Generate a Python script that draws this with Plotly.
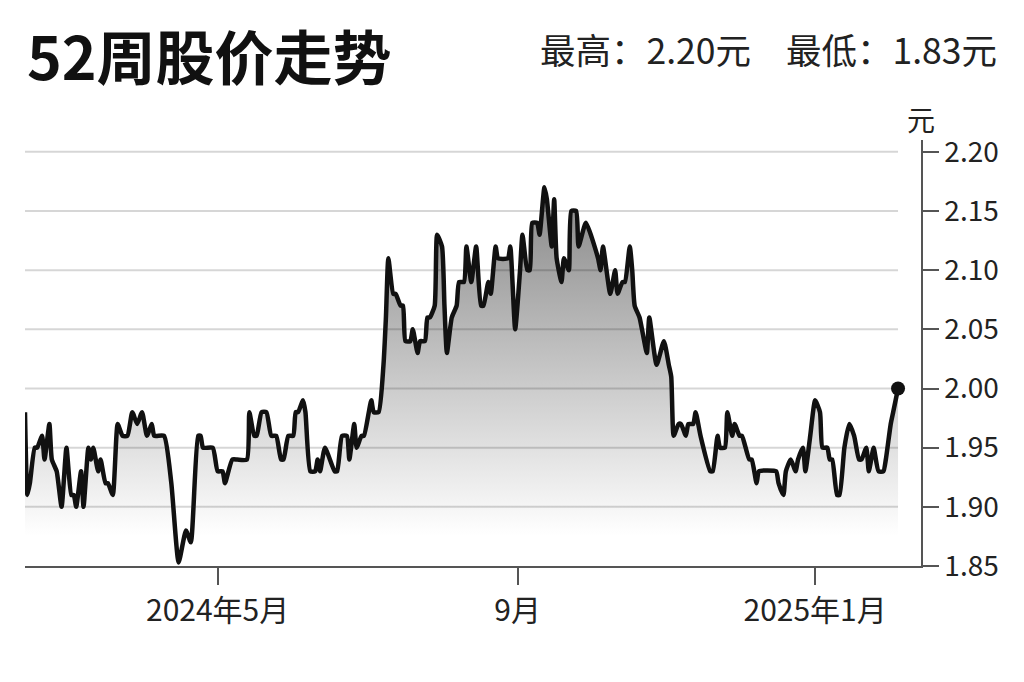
import plotly.graph_objects as go

dates = [
    "2024-02-12", "2024-02-13", "2024-02-14", "2024-02-16", "2024-02-17", "2024-02-19",
    "2024-02-20", "2024-02-22", "2024-02-23", "2024-02-25", "2024-02-27", "2024-02-29",
    "2024-03-02", "2024-03-03", "2024-03-04", "2024-03-06", "2024-03-07", "2024-03-09",
    "2024-03-10", "2024-03-11", "2024-03-13", "2024-03-14", "2024-03-16", "2024-03-17",
    "2024-03-19", "2024-03-21", "2024-03-23", "2024-03-25", "2024-03-27", "2024-03-29",
    "2024-03-31", "2024-04-02", "2024-04-04", "2024-04-05", "2024-04-09", "2024-04-12",
    "2024-04-15", "2024-04-18", "2024-04-20", "2024-04-23", "2024-04-24", "2024-04-25",
    "2024-04-29", "2024-05-01", "2024-05-03", "2024-05-04", "2024-05-07", "2024-05-09",
    "2024-05-13", "2024-05-14", "2024-05-16", "2024-05-17", "2024-05-19", "2024-05-21",
    "2024-05-23", "2024-05-25", "2024-05-27", "2024-05-28", "2024-05-30", "2024-06-01",
    "2024-06-02", "2024-06-03", "2024-06-05", "2024-06-06", "2024-06-08", "2024-06-10",
    "2024-06-11", "2024-06-12", "2024-06-14", "2024-06-18", "2024-06-19", "2024-06-21",
    "2024-06-23", "2024-06-24", "2024-06-26", "2024-06-27", "2024-06-29", "2024-06-30",
    "2024-07-03", "2024-07-04", "2024-07-06", "2024-07-08", "2024-07-09", "2024-07-10",
    "2024-07-12", "2024-07-13", "2024-07-15", "2024-07-16", "2024-07-17", "2024-07-19",
    "2024-07-20", "2024-07-22", "2024-07-23", "2024-07-25", "2024-07-26", "2024-07-27",
    "2024-07-29", "2024-07-30", "2024-08-01", "2024-08-02", "2024-08-03", "2024-08-05",
    "2024-08-07", "2024-08-08", "2024-08-10", "2024-08-11", "2024-08-13", "2024-08-15",
    "2024-08-17", "2024-08-18", "2024-08-20", "2024-08-21", "2024-08-23", "2024-08-24",
    "2024-08-28", "2024-08-29", "2024-08-31", "2024-09-02", "2024-09-03", "2024-09-05",
    "2024-09-06", "2024-09-07", "2024-09-09", "2024-09-10", "2024-09-12", "2024-09-13",
    "2024-09-15", "2024-09-16", "2024-09-17", "2024-09-19", "2024-09-20", "2024-09-22",
    "2024-09-23", "2024-09-25", "2024-09-26", "2024-09-29", "2024-10-04", "2024-10-05",
    "2024-10-06", "2024-10-09", "2024-10-11", "2024-10-12", "2024-10-14", "2024-10-15",
    "2024-10-17", "2024-10-18", "2024-10-19", "2024-10-21", "2024-10-22", "2024-10-24",
    "2024-10-25", "2024-10-28", "2024-10-31", "2024-11-02", "2024-11-03", "2024-11-04",
    "2024-11-06", "2024-11-07", "2024-11-09", "2024-11-10", "2024-11-12", "2024-11-13",
    "2024-11-15", "2024-11-19", "2024-11-20", "2024-11-22", "2024-11-23", "2024-11-25",
    "2024-11-26", "2024-11-28", "2024-11-29", "2024-12-01", "2024-12-02", "2024-12-05",
    "2024-12-06", "2024-12-08", "2024-12-09", "2024-12-16", "2024-12-17", "2024-12-19",
    "2024-12-20", "2024-12-22", "2024-12-24", "2024-12-25", "2024-12-27", "2024-12-28",
    "2024-12-30", "2025-01-01", "2025-01-03", "2025-01-04", "2025-01-06", "2025-01-07",
    "2025-01-08", "2025-01-10", "2025-01-11", "2025-01-13", "2025-01-15", "2025-01-17",
    "2025-01-19", "2025-01-20", "2025-01-22", "2025-01-23", "2025-01-24", "2025-01-25",
    "2025-01-27", "2025-01-29", "2025-01-30", "2025-02-01", "2025-02-02", "2025-02-04",
]

prices = [
    1.98, 1.91, 1.92, 1.95, 1.95, 1.96,
    1.94, 1.97, 1.94, 1.93, 1.90, 1.95,
    1.91, 1.91, 1.90, 1.93, 1.90, 1.95,
    1.94, 1.95, 1.93, 1.94, 1.92, 1.92,
    1.91, 1.97, 1.96, 1.96, 1.98, 1.97,
    1.98, 1.96, 1.97, 1.96, 1.96, 1.92,
    1.853, 1.88, 1.87, 1.96, 1.96, 1.95,
    1.95, 1.93, 1.93, 1.92, 1.94, 1.94,
    1.94, 1.98, 1.96, 1.96, 1.98, 1.98,
    1.96, 1.96, 1.94, 1.94, 1.96, 1.96,
    1.98, 1.98, 1.99, 1.98, 1.93, 1.93,
    1.94, 1.93, 1.95, 1.93, 1.93, 1.96,
    1.96, 1.94, 1.97, 1.95, 1.96, 1.96,
    1.99, 1.98, 1.98, 2.02, 2.06, 2.11,
    2.08, 2.08, 2.07, 2.07, 2.04, 2.04,
    2.05, 2.03, 2.04, 2.04, 2.06, 2.06,
    2.07, 2.13, 2.12, 2.07, 2.03, 2.06,
    2.07, 2.09, 2.09, 2.12, 2.09, 2.12,
    2.07, 2.07, 2.09, 2.08, 2.12, 2.11,
    2.11, 2.12, 2.05, 2.10, 2.13, 2.10,
    2.10, 2.14, 2.14, 2.13, 2.17, 2.16,
    2.12, 2.16, 2.11, 2.09, 2.11, 2.10,
    2.15, 2.15, 2.12, 2.14, 2.11, 2.10,
    2.12, 2.08, 2.10, 2.08, 2.09, 2.09,
    2.12, 2.10, 2.07, 2.06, 2.05, 2.03,
    2.06, 2.02, 2.04, 2.02, 2.01, 1.96,
    1.97, 1.97, 1.96, 1.97, 1.97, 1.98,
    1.96, 1.93, 1.93, 1.96, 1.95, 1.95,
    1.98, 1.96, 1.97, 1.96, 1.96, 1.94,
    1.94, 1.92, 1.93, 1.93, 1.92, 1.91,
    1.93, 1.94, 1.93, 1.94, 1.95, 1.93,
    1.96, 1.99, 1.98, 1.95, 1.95, 1.94,
    1.94, 1.91, 1.91, 1.95, 1.97, 1.96,
    1.94, 1.94, 1.95, 1.93, 1.94, 1.95,
    1.93, 1.93, 1.94, 1.97, 1.98, 2.00,
]

y_ticks = [1.85, 1.90, 1.95, 2.00, 2.05, 2.10, 2.15, 2.20]
x_ticks = ["2024-05-01", "2024-09-01", "2025-01-01"]
x_tick_labels = ["2024年5月", "9月", "2025年1月"]

title_text = "52周股价走势"
high_text = "最高：2.20元"
low_text = "最低：1.83元"
unit_text = "元"

FONT = "Noto Sans CJK SC"

fig = go.Figure()

# gradient area under the line
fig.add_trace(go.Scatter(
    x=dates, y=prices, mode="lines", line=dict(width=0, shape="spline", smoothing=0.5),
    fill="tozeroy",
    fillgradient=dict(type="vertical", start=1.85, stop=2.17,
                      colorscale=[[0, "#ffffff"], [0.08, "#ffffff"], [1, "#878787"]]),
    hoverinfo="skip", showlegend=False,
))

# horizontal gridlines spanning the data period (drawn over the fill, under the line)
gx, gy = [], []
for v in y_ticks[1:]:
    gx += [dates[0], dates[-1], None]
    gy += [v, v, None]
fig.add_trace(go.Scatter(
    x=gx, y=gy, mode="lines", line=dict(color="rgba(0,0,0,0.16)", width=2),
    hoverinfo="skip", showlegend=False,
))

# price line
fig.add_trace(go.Scatter(
    x=dates, y=prices, mode="lines",
    line=dict(color="#111111", width=4.5, shape="spline", smoothing=0.5),
    hoverinfo="skip", showlegend=False,
))

# end dot
fig.add_trace(go.Scatter(
    x=[dates[-1]], y=[prices[-1]], mode="markers",
    marker=dict(color="#111111", size=14),
    hoverinfo="skip", showlegend=False,
))

fig.update_layout(
    width=1024, height=682,
    margin=dict(l=17, r=111, t=132, b=124),
    paper_bgcolor="white", plot_bgcolor="white",
    font=dict(family=FONT, color="#222222"),
    showlegend=False,
    xaxis=dict(
        type="date",
        range=["2024-02-12", "2025-02-13 10:00"],
        tickvals=x_ticks, ticktext=x_tick_labels,
        ticks="outside", ticklen=17, tickwidth=1.5, tickcolor="#555555",
        showline=True, linecolor="#555555", linewidth=1.5,
        showgrid=False, zeroline=False,
        tickfont=dict(size=30, family=FONT, color="#222222"),
    ),
    yaxis=dict(
        side="right",
        range=[1.85, 2.21],
        tickvals=y_ticks, ticktext=[f"{v:.2f}" for v in y_ticks],
        ticks="outside", ticklen=16, tickwidth=1.5, tickcolor="#555555",
        showline=True, linecolor="#555555", linewidth=1.5,
        showgrid=False, zeroline=False,
        tickfont=dict(size=28, family=FONT, color="#222222"),
    ),
    annotations=[
        dict(text="<b>" + title_text + "</b>", xref="paper", yref="paper",
             x=0.0, y=1.203, xanchor="left", yanchor="middle", showarrow=False,
             height=66, valign="middle",
             font=dict(size=59, family=FONT, color="#111111")),
        dict(text=high_text, xref="paper", yref="paper",
             x=0.5725, y=1.214, xanchor="left", yanchor="middle", showarrow=False,
             font=dict(size=35.5, family=FONT, color="#222222")),
        dict(text=low_text, xref="paper", yref="paper",
             x=0.8475, y=1.214, xanchor="left", yanchor="middle", showarrow=False,
             font=dict(size=35.5, family=FONT, color="#222222")),
        dict(text=unit_text, xref="paper", yref="paper",
             x=1.0, y=1.05, xanchor="center", yanchor="middle", showarrow=False,
             font=dict(size=28, family=FONT, color="#222222")),
    ],
)

fig.write_html("out.html")
